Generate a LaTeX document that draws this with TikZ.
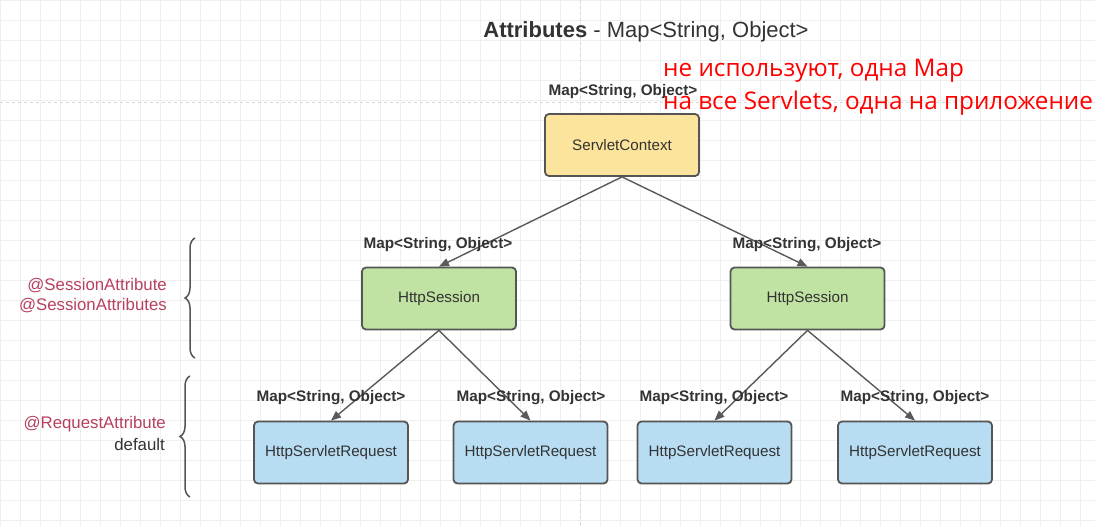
\documentclass[tikz,border=0pt]{standalone}
\usepackage{fontspec}
\setmainfont{Liberation Sans}
\newfontfamily\redfont{Open Sans}
\usetikzlibrary{arrows.meta,decorations.pathreplacing}
\definecolor{txt}{HTML}{333333}
\definecolor{edge}{HTML}{5A5A5A}
\definecolor{boxline}{HTML}{555555}
\definecolor{yel}{HTML}{FDE49C}
\definecolor{grn}{HTML}{C0E2A2}
\definecolor{blu}{HTML}{B8DDF3}
\definecolor{crim}{HTML}{B8405E}
\definecolor{gridc}{HTML}{EFEFEF}
\tikzset{
  box/.style={draw=boxline, line width=1.8pt, rounded corners=4pt, minimum width=154pt, minimum height=62pt, inner sep=0pt, text=txt, font=\fontsize{15.2}{17}\selectfont},
  maplbl/.style={text=txt, font=\bfseries\fontsize{15.3}{17}\selectfont, inner sep=0pt},
  conn/.style={draw=edge, line width=1.4pt, -{Triangle[length=10pt,width=8pt]}},
  anno/.style={text=crim, font=\fontsize{16.8}{19}\selectfont, inner sep=0pt, anchor=east},
  bracestyle/.style={draw=boxline, line width=1.5pt, decorate, decoration={brace, amplitude=10pt}},
}
\begin{document}
\begin{tikzpicture}[x=1pt,y=-1pt]
\useasboundingbox (0,0) rectangle (1095,526);
\fill[white] (0,0) rectangle (1095,526);
\draw[gridc, line width=0.6pt, step=20pt] (0,0) grid (1095,526);
\draw[gray!30, dashed, line width=0.8pt] (580,0) -- (580,526);
\draw[gray!30, dashed, line width=0.8pt] (0,102) -- (1095,102);

\node (title) at (646,31.5) [text=txt, font=\fontsize{22}{24}\selectfont] {\textbf{Attributes} - Map<String, Object>};

\node[box, fill=yel] (sc) at (622,145) {ServletContext};
\node[box, fill=grn] (hsL) at (439,298.5) {HttpSession};
\node[box, fill=grn] (hsR) at (807.5,298.5) {HttpSession};
\node[box, fill=blu] (r1) at (331,452.5) {HttpServletRequest};
\node[box, fill=blu] (r2) at (530.5,452.5) {HttpServletRequest};
\node[box, fill=blu] (r3) at (714.5,452.5) {HttpServletRequest};
\node[box, fill=blu] (r4) at (915,452.5) {HttpServletRequest};

\draw[conn] (sc.south) -- (hsL.north);
\draw[conn] (sc.south) -- (hsR.north);
\draw[conn] (hsL.south) -- (r1.north);
\draw[conn] (hsL.south) -- (r2.north);
\draw[conn] (hsR.south) -- (r3.north);
\draw[conn] (hsR.south) -- (r4.north);

\node[maplbl] (lsc) at (623,92) {Map<String, Object>};
\node[maplbl] (lhsL) at (438,245) {Map<String, Object>};
\node[maplbl] (lhsR) at (807,245) {Map<String, Object>};
\node[maplbl] (lr1) at (331,398) {Map<String, Object>};
\node[maplbl] (lr2) at (531,398) {Map<String, Object>};
\node[maplbl] (lr3) at (714,398) {Map<String, Object>};
\node[maplbl] (lr4) at (915,398) {Map<String, Object>};

\node (red1) at (663,71) [anchor=west, text=red, inner sep=0pt, font=\redfont\fontsize{24.3}{27}\selectfont] {не используют, одна Map};
\node (red2) at (663,103) [anchor=west, text=red, inner sep=0pt, font=\redfont\fontsize{24.3}{27}\selectfont] {на все Servlets, одна на приложение};

\coordinate (b1t) at (195,238);
\coordinate (b1b) at (195,358);
\coordinate (b2t) at (190,376);
\coordinate (b2b) at (190,497);
\draw[bracestyle] (b1b) -- (b1t);
\draw[bracestyle] (b2b) -- (b2t);

\node[anno] (sa1) at (167,286) {@SessionAttribute};
\node[anno] (sa2) at (167,306) {@SessionAttributes};
\node[anno] (ra) at (166,424) {@RequestAttribute};
\node[anno, text=txt] (def) at (165,444) {default};
\end{tikzpicture}
\end{document}
